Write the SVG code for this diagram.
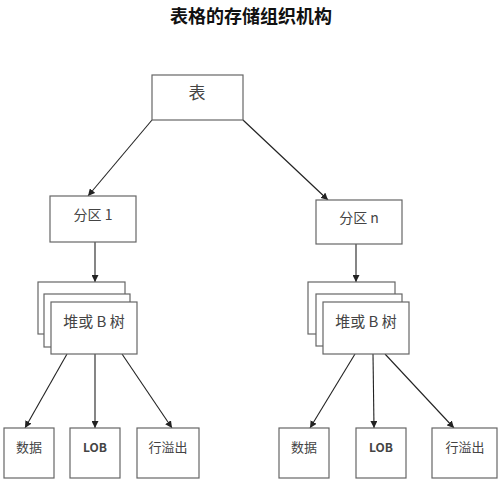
<svg xmlns="http://www.w3.org/2000/svg" width="500" height="487" viewBox="0 0 500 487">
<defs>
<marker id="ah" viewBox="0 0 10 10" refX="10" refY="5" markerWidth="7" markerHeight="7" markerUnits="userSpaceOnUse" orient="auto">
<path d="M0,0 L10,5 L0,10 z" fill="#222"/>
</marker>
</defs>
<style>
.box{fill:#fff;stroke:#666;stroke-width:1.2}
.t{font-family:"Noto Sans CJK SC","Noto Sans",sans-serif;fill:#444;text-anchor:middle}
.title{font-family:"Noto Sans CJK SC",sans-serif;font-weight:bold;font-size:18px;fill:#111;text-anchor:middle}
.c{stroke:#222;stroke-width:1.1;fill:none;marker-end:url(#ah)}
</style>
<rect width="500" height="487" fill="#fff"/>
<text class="title" x="251" y="23">表格的存储组织机构</text>
<g id="connectors">
<line class="c" x1="152" y1="120" x2="88" y2="196"/>
<line class="c" x1="243" y1="120" x2="328" y2="200"/>
<line class="c" x1="95" y1="242" x2="95" y2="282"/>
<line class="c" x1="356" y1="244" x2="356" y2="282"/>
<line class="c" x1="67" y1="354" x2="25" y2="428"/>
<line class="c" x1="95" y1="354" x2="95" y2="428"/>
<line class="c" x1="122" y1="354" x2="172" y2="428"/>
<line class="c" x1="355" y1="354" x2="310" y2="428"/>
<line class="c" x1="373" y1="354" x2="374" y2="428"/>
<line class="c" x1="385" y1="354" x2="454" y2="428"/>
</g>
<g id="table">
<rect class="box" x="152" y="75" width="91" height="45"/>
<text class="t" x="197" y="99" font-size="17">表</text>
</g>
<g id="partition1">
<rect class="box" x="50" y="196" width="86" height="46"/>
<text class="t" x="93" y="220" font-size="14">分区 1</text>
</g>
<g id="partitionN">
<rect class="box" x="316" y="200" width="86" height="44"/>
<text class="t" x="359" y="223" font-size="14">分区 n</text>
</g>
<g id="heap1">
<rect class="box" x="38" y="282" width="87" height="52"/>
<rect class="box" x="44" y="294" width="86" height="53"/>
<rect class="box" x="51" y="302" width="86" height="52"/>
<text class="t" x="94" y="327" font-size="15">堆或 B 树</text>
</g>
<g id="heapN">
<rect class="box" x="308" y="282" width="87" height="52"/>
<rect class="box" x="316" y="294" width="86" height="52"/>
<rect class="box" x="323" y="302" width="86" height="52"/>
<text class="t" x="366" y="327" font-size="15">堆或 B 树</text>
</g>
<g id="data1">
<rect class="box" x="4" y="428" width="50" height="50"/>
<text class="t" x="29" y="452" font-size="13">数据</text>
</g>
<g id="lob1">
<rect class="box" x="70" y="428" width="50" height="50"/>
<text class="t" x="95" y="452" font-size="12" font-weight="bold">LOB</text>
</g>
<g id="overflow1">
<rect class="box" x="137" y="428" width="62" height="50"/>
<text class="t" x="168" y="452" font-size="13">行溢出</text>
</g>
<g id="dataN">
<rect class="box" x="279" y="428" width="50" height="50"/>
<text class="t" x="304" y="452" font-size="13">数据</text>
</g>
<g id="lobN">
<rect class="box" x="356" y="428" width="50" height="50"/>
<text class="t" x="381" y="452" font-size="12" font-weight="bold">LOB</text>
</g>
<g id="overflowN">
<rect class="box" x="432" y="428" width="65" height="50"/>
<text class="t" x="465" y="452" font-size="13">行溢出</text>
</g>
</svg>
